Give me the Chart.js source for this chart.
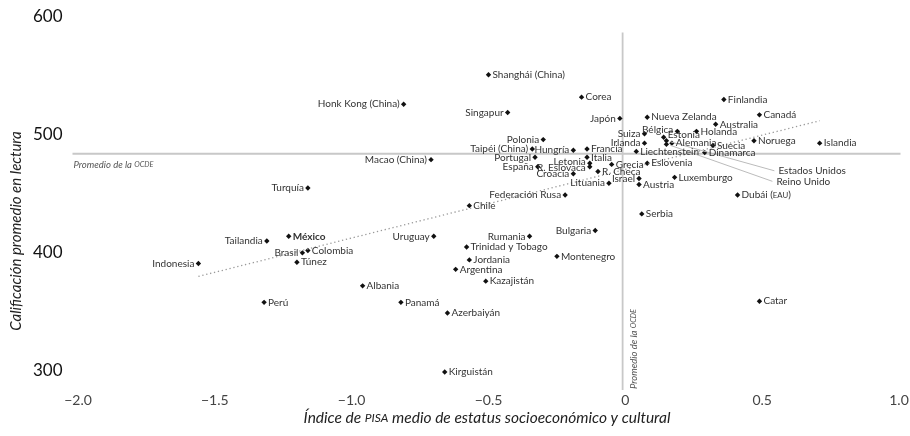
<!DOCTYPE html>
<html>
<head>
<meta charset="utf-8">
<script src="https://cdn.jsdelivr.net/npm/chart.js@4.4.0/dist/chart.umd.min.js"></script>
<style>
  html, body { margin: 0; padding: 0; background: #fff; }
  #wrap { width: 910px; height: 436px; position: relative; }
</style>
</head>
<body>
<div id="wrap"><canvas id="pisa"></canvas></div>
<script>
// PISA: lectura vs. indice socioeconomico por pais
const countries = ['Shanghái (China)', 'Honk Kong (China)', 'Singapur', 'Corea', 'Japón', 'Finlandia',
  'Nueva Zelanda', 'Canadá', 'Australia', 'Bélgica', 'Holanda', 'Suiza', 'Irlanda', 'Estonia',
  'Estados Unidos', 'Reino Unido', 'Alemania', 'Suecia', 'Noruega', 'Islandia', 'Liechtenstein',
  'Dinamarca', 'Polonia', 'Taipéi (China)', 'Hungría', 'Francia', 'Portugal', 'Italia',
  'Macao (China)', 'Letonia', 'R. Eslovaca', 'España', 'Croacia', 'R. Checa', 'Grecia',
  'Eslovenia', 'Lituania', 'Israel', 'Austria', 'Luxemburgo', 'Federación Rusa', 'Dubái (EAU)',
  'Chile', 'Turquía', 'Serbia', 'Tailandia', 'México', 'Brasil', 'Colombia', 'Túnez', 'Indonesia',
  'Uruguay', 'Rumania', 'Bulgaria', 'Trinidad y Tobago', 'Jordania', 'Montenegro', 'Argentina',
  'Kazajistán', 'Albania', 'Perú', 'Panamá', 'Azerbaiyán', 'Catar', 'Kirguistán'];

const escs = [-0.50, -0.81, -0.43, -0.16, -0.02, 0.36, 0.08, 0.49, 0.33, 0.19, 0.26, 0.07, 0.07, 0.14,
  0.15, 0.15, 0.17, 0.32, 0.47, 0.71, 0.04, 0.29, -0.30, -0.34, -0.19, -0.14, -0.33, -0.14, -0.71,
  -0.13, -0.13, -0.32, -0.19, -0.10, -0.05, 0.08, -0.06, 0.05, 0.05, 0.18, -0.22, 0.41, -0.57, -1.16,
  0.06, -1.31, -1.23, -1.18, -1.16, -1.20, -1.56, -0.70, -0.35, -0.11, -0.58, -0.57, -0.25, -0.62,
  -0.51, -0.96, -1.32, -0.82, -0.65, 0.49, -0.66];

const reading = [551, 526, 519, 532, 514, 530, 515, 517, 509, 503, 503, 501, 493, 498, 495, 492, 493,
  491, 495, 493, 486, 485, 496, 488, 487, 488, 481, 481, 479, 476, 473, 473, 467, 469, 475, 476, 459,
  463, 458, 464, 449, 449, 440, 455, 433, 410, 414, 400, 402, 392, 391, 414, 414, 419, 405, 394, 397,
  386, 376, 372, 358, 358, 349, 359, 299];

const xTicks = [-2, -1.5, -1, -0.5, 0, 0.5, 1];
const yTicks = [300, 400, 500, 600];

const oecdReading = 484;
const oecdEscs = -0.01;

const trendX = [-1.56, 0.71];
const trendY = [380, 512];

// labels that sit to the left of their marker
const leftSide = ['Honk Kong (China)', 'Singapur', 'Japón', 'Polonia', 'Taipéi (China)', 'Hungría',
  'Portugal', 'Macao (China)', 'Letonia', 'R. Eslovaca', 'España', 'Croacia', 'Lituania',
  'Federación Rusa', 'Turquía', 'Bélgica', 'Suiza', 'Irlanda', 'Israel', 'Tailandia', 'Brasil',
  'Indonesia', 'Uruguay', 'Rumania', 'Bulgaria'];
// small vertical nudges for crowded labels
const nudge = { 'Bélgica': -2, 'Estonia': -2, 'Letonia': -1, 'R. Eslovaca': 1 };
// labels pulled out with a leader line
const callout = { 'Estados Unidos': [112, 30], 'Reino Unido': [110, 37] };

const FONT = 'Lato, "Open Sans", sans-serif';

// draw text, runs of capitals set as small caps
function smallCaps(ctx, text, x, y, size, style, align) {
  const parts = text.split(/([A-ZÁÉÍÓÚ]{2,})/).filter(p => p.length);
  const fonts = parts.map(p => /^[A-ZÁÉÍÓÚ]{2,}$/.test(p)
    ? `${style} ${(size * 0.78).toFixed(1)}px ${FONT}`
    : `${style} ${size}px ${FONT}`);
  let total = 0;
  const widths = parts.map((p, i) => { ctx.font = fonts[i]; const w = ctx.measureText(p).width; total += w; return w; });
  let cx = align === 'right' ? x - total : align === 'center' ? x - total / 2 : x;
  ctx.textAlign = 'left';
  parts.forEach((p, i) => { ctx.font = fonts[i]; ctx.fillText(p, cx, y); cx += widths[i]; });
}

const oecdLines = {
  id: 'oecdLines',
  beforeDatasetsDraw(chart) {
    const { ctx, chartArea: a, scales: { x, y } } = chart;
    const hy = y.getPixelForValue(oecdReading);
    const vx = x.getPixelForValue(oecdEscs);
    ctx.save();
    ctx.strokeStyle = '#c8c8c8';
    ctx.lineWidth = 1.8;
    ctx.beginPath();
    ctx.moveTo(a.left, hy); ctx.lineTo(a.right - 4, hy);
    ctx.moveTo(vx, a.top + 18); ctx.lineTo(vx, a.bottom - 2);
    ctx.stroke();
    ctx.fillStyle = '#555';
    ctx.textBaseline = 'middle';
    smallCaps(ctx, 'Promedio de la OCDE', a.left + 1, hy + 11, 9.5, 'italic', 'left');
    ctx.translate(vx + 11, a.bottom - 3);
    ctx.rotate(-Math.PI / 2);
    smallCaps(ctx, 'Promedio de la OCDE', 0, 0, 9.5, 'italic', 'left');
    ctx.restore();
  }
};

const pointLabels = {
  id: 'pointLabels',
  afterDatasetsDraw(chart) {
    const ctx = chart.ctx;
    const pts = chart.getDatasetMeta(1).data;
    ctx.save();
    ctx.textBaseline = 'middle';
    ctx.fillStyle = '#333';
    pts.forEach((pt, i) => {
      const name = countries[i];
      const weight = name === 'México' ? 'bold' : 'normal';
      const dy = nudge[name] || 0;
      if (callout[name]) {
        const [ox, oy] = callout[name];
        ctx.strokeStyle = '#bbb';
        ctx.lineWidth = 1;
        ctx.beginPath();
        ctx.moveTo(pt.x + 4, pt.y + 1);
        ctx.lineTo(pt.x + ox - 4, pt.y + oy);
        ctx.stroke();
        smallCaps(ctx, name, pt.x + ox, pt.y + oy, 10, weight, 'left');
      } else if (leftSide.includes(name)) {
        smallCaps(ctx, name, pt.x - 4, pt.y + dy, 10, weight, 'right');
      } else {
        smallCaps(ctx, name, pt.x + 4, pt.y + dy, 10, weight, 'left');
      }
    });
    ctx.restore();
  }
};

const axisTitles = {
  id: 'axisTitles',
  afterDraw(chart) {
    const ctx = chart.ctx;
    ctx.save();
    ctx.fillStyle = '#222';
    ctx.textBaseline = 'middle';
    smallCaps(ctx, 'Índice de PISA medio de estatus socioeconómico y cultural', 487, 418, 15.5, 'italic', 'center');
    ctx.translate(16, 231);
    ctx.rotate(-Math.PI / 2);
    smallCaps(ctx, 'Calificación promedio en lectura', 0, 0, 15, 'italic', 'center');
    ctx.restore();
  }
};

function fmtX(v) {
  if (v === 0) return '0';
  return (v < 0 ? '\u2212' : '') + Math.abs(v).toFixed(1);
}

new Chart(document.getElementById('pisa'), {
  type: 'scatter',
  data: {
    datasets: [
      {
        type: 'line',
        data: trendX.map((x, i) => ({ x: x, y: trendY[i] })),
        borderColor: '#9a9a9a',
        borderWidth: 1.3,
        borderDash: [1.3, 2.7],
        pointRadius: 0,
        fill: false
      },
      {
        data: escs.map((x, i) => ({ x: x, y: reading[i] })),
        pointStyle: 'rectRot',
        pointRadius: 2.7,
        backgroundColor: '#111',
        borderWidth: 0
      }
    ]
  },
  options: {
    responsive: true,
    maintainAspectRatio: false,
    animation: false,
    layout: { padding: { left: 0, right: 5.5, top: 14.6, bottom: 0 } },
    plugins: { legend: { display: false }, tooltip: { enabled: false } },
    scales: {
      x: {
        type: 'linear',
        min: -2.02,
        max: 1.02,
        grid: { display: false, drawTicks: false },
        border: { display: false },
        afterBuildTicks: s => { s.ticks = xTicks.map(v => ({ value: v })); },
        afterFit: s => { s.height = 44; s.paddingLeft = 0; s.paddingRight = 0; },
        ticks: {
          autoSkip: false,
          maxRotation: 0,
          padding: 0,
          color: '#444',
          font: { family: FONT, size: 14 },
          callback: v => fmtX(v)
        }
      },
      y: {
        min: 282,
        max: 602,
        grid: { display: false, drawTicks: false },
        border: { display: false },
        afterBuildTicks: s => { s.ticks = yTicks.map(v => ({ value: v })); },
        afterFit: s => { s.width = 72.5; s.paddingTop = 0; s.paddingBottom = 0; },
        ticks: {
          padding: 10,
          color: '#111',
          font: { family: FONT, size: 17 }
        }
      }
    }
  },
  plugins: [oecdLines, pointLabels, axisTitles]
});
</script>
</body>
</html>
